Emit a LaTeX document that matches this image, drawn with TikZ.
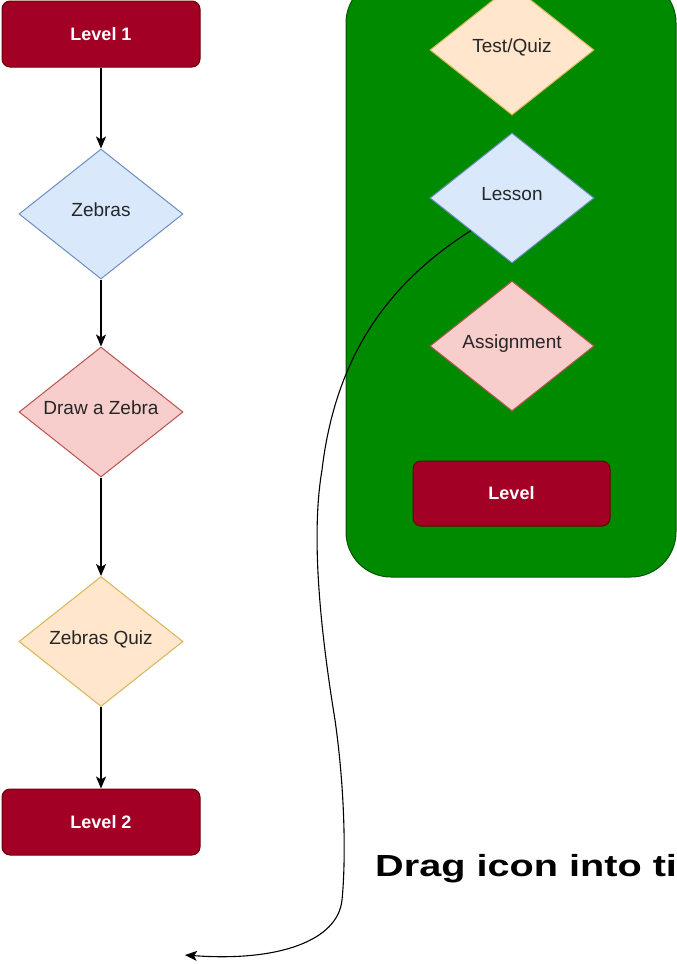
\documentclass[tikz,border=0pt]{standalone}
\usepackage{fontspec}
\usepackage{graphicx}
\setmainfont{Liberation Sans}
\usetikzlibrary{shapes.geometric,arrows.meta}

\definecolor{lvlfill}{HTML}{A20025}
\definecolor{lvlline}{HTML}{6F0000}
\definecolor{panelfill}{HTML}{008A00}
\definecolor{panelline}{HTML}{005700}
\definecolor{bluefill}{HTML}{DAE8FC}
\definecolor{blueline}{HTML}{6C8EBF}
\definecolor{redfill}{HTML}{F8CECC}
\definecolor{redline}{HTML}{B85450}
\definecolor{orangefill}{HTML}{FFE6CC}
\definecolor{goldline}{HTML}{D6B656}
\definecolor{txtgray}{HTML}{262626}

\begin{document}
\begin{tikzpicture}[x=1pt,y=-1pt,
  levelbox/.style={draw=lvlline, fill=lvlfill, rounded corners=8pt,
    minimum width=198pt, minimum height=66pt, line width=1pt,
    text=white, font=\fontsize{18}{20}\selectfont\bfseries},
  stepdiamond/.style={diamond, minimum width=164pt, minimum height=130pt,
    inner sep=0pt, line width=1pt, text=txtgray,
    font=\fontsize{19}{21}\selectfont, text height=5pt, text depth=0pt},
  bluestep/.style={stepdiamond, draw=blueline, fill=bluefill},
  redstep/.style={stepdiamond, draw=redline, fill=redfill},
  quizstep/.style={stepdiamond, draw=goldline, fill=orangefill},
  panelbox/.style={draw=panelline, fill=panelfill, rounded corners=45pt,
    minimum width=330pt, minimum height=599pt, line width=1pt},
  flow/.style={draw=black, line width=1.3pt,
    -{Stealth[length=12pt,width=10pt,inset=3pt]}}
]
\clip (0,0) rectangle (677,964);

% left column: the course sequence
\node[levelbox] (l1) at (101,34) {Level 1};
\node[bluestep] (zeb) at (101,214) {Zebras};
\node[redstep] (draw) at (101,412) {Draw a Zebra};
\node[quizstep] (quiz) at (101,641.5) {Zebras Quiz};
\node[levelbox] (l2) at (101,822) {Level 2};

\draw[flow] (l1) -- (zeb);
\draw[flow] (zeb) -- (draw);
\draw[flow] (draw) -- (quiz);
\draw[flow] (quiz) -- (l2);

% right column: palette of item types
\node[panelbox] (panel) at (511,277.5) {};
\node[quizstep] (test) at (512,50) {Test/Quiz};
\node[bluestep] (lesson) at (512,198) {Lesson};
\node[redstep] (assign) at (512,346) {Assignment};
\node[levelbox, minimum width=197pt, minimum height=65pt] (lvl) at (511.5,493.5) {Level};

% drag gesture from the palette
\coordinate (dropend) at (185,955);
\draw[flow, line width=1.1pt] (lesson.south west)
  .. controls (385,285) and (335,360) .. (322,470)
  .. controls (310,540) and (322,640) .. (335,720)
  .. controls (345,790) and (346,860) .. (342,900)
  .. controls (338,940) and (280,962) .. (dropend);

\node[anchor=base west, inner sep=0pt, font=\fontsize{30.5}{32}\selectfont\bfseries]
  (hint) at (375,876) {\scalebox{1.3}[1]{Drag icon into ti}};
\end{tikzpicture}
\end{document}
